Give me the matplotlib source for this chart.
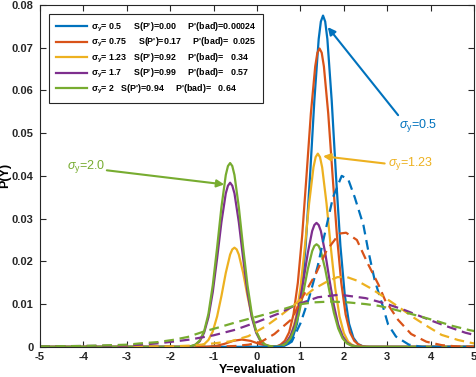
import numpy as np
import matplotlib
matplotlib.use('Agg')
import matplotlib.pyplot as plt

plt.rcParams['font.family'] = ['Liberation Sans', 'DejaVu Sans']
plt.rcParams['mathtext.fontset'] = 'custom'
plt.rcParams['mathtext.rm'] = 'Liberation Sans'
plt.rcParams['mathtext.it'] = 'Liberation Sans:italic'
plt.rcParams['mathtext.bf'] = 'Liberation Sans:bold'
plt.rcParams['axes.unicode_minus'] = False

# colours (MATLAB default order)
colors = ['#0072BD', '#D95319', '#EDB120', '#7E2F8E', '#77AC30']

# solid curves
x_s05 = [-5, 0.52, 0.62, 0.72, 0.82, 0.92, 1.02, 1.12, 1.22, 1.32, 1.42, 1.47, 1.52,
         1.57, 1.62, 1.72, 1.82, 1.92, 2.02, 2.12, 2.22, 2.32, 2.42, 2.52, 5]
y_s05 = [0, 0, 0.0002, 0.0007, 0.0021, 0.0054, 0.0122, 0.0237, 0.0398, 0.0576, 0.0720,
         0.0761, 0.0775, 0.0761, 0.0720, 0.0576, 0.0398, 0.0237, 0.0122, 0.0054, 0.0021,
         0.0007, 0.0002, 0, 0]

x_s075 = [-5, -1.2, -0.95, -0.75, -0.55, -0.35, -0.15, 0.05, 0.25, 0.45, 0.54, 0.64, 0.74,
          0.84, 0.94, 1.04, 1.14, 1.24, 1.34, 1.39, 1.44, 1.49, 1.54, 1.64, 1.74, 1.84,
          1.94, 2.04, 2.14, 2.24, 2.34, 2.44, 2.6, 5]
y_s075 = [0, 0, 0.0002, 0.0007, 0.0014, 0.0017, 0.0014, 0.0007, 0.0002, 0.0001, 0.0005,
          0.0014, 0.0034, 0.0076, 0.0150, 0.0261, 0.0401, 0.0546, 0.0656, 0.0688, 0.0698,
          0.0688, 0.0656, 0.0546, 0.0401, 0.0261, 0.0150, 0.0076, 0.0034, 0.0014, 0.0005,
          0.0001, 0, 0]

x_s123 = [-5, -1.52, -1.42, -1.32, -1.22, -1.12, -1.02, -0.92, -0.82, -0.72, -0.62, -0.57,
          -0.52, -0.47, -0.42, -0.32, -0.22, -0.12, -0.02, 0.08, 0.18, 0.28, 0.4, 0.5, 0.6,
          0.7, 0.8, 0.9, 1.0, 1.1, 1.2, 1.3, 1.35, 1.4, 1.45, 1.5, 1.6, 1.7, 1.8, 1.9, 2.0,
          2.1, 2.2, 2.3, 2.4, 5]
y_s123 = [0, 0, 0.0001, 0.0002, 0.0006, 0.0016, 0.0036, 0.0071, 0.0119, 0.0173, 0.0216,
          0.0228, 0.0232, 0.0228, 0.0216, 0.0173, 0.0119, 0.0071, 0.0036, 0.0016, 0.0006,
          0.0002, 0.0001, 0.0001, 0.0004, 0.0012, 0.0032, 0.0071, 0.0138, 0.0232, 0.0336,
          0.0420, 0.0444, 0.0452, 0.0444, 0.0420, 0.0336, 0.0232, 0.0138, 0.0071, 0.0032,
          0.0012, 0.0004, 0.0001, 0, 0]

x_s17 = [-5, -1.62, -1.52, -1.42, -1.32, -1.22, -1.12, -1.02, -0.92, -0.82, -0.72, -0.67,
         -0.62, -0.57, -0.52, -0.42, -0.32, -0.22, -0.12, -0.02, 0.08, 0.18, 0.28, 0.37,
         0.47, 0.57, 0.67, 0.77, 0.87, 0.97, 1.07, 1.17, 1.27, 1.32, 1.37, 1.42, 1.47, 1.57,
         1.67, 1.77, 1.87, 1.97, 2.07, 2.17, 2.27, 2.37, 5]
y_s17 = [0, 0, 0.0001, 0.0005, 0.0013, 0.0033, 0.0069, 0.0128, 0.0207, 0.0292, 0.0359,
         0.0377, 0.0384, 0.0377, 0.0359, 0.0292, 0.0207, 0.0128, 0.0069, 0.0033, 0.0013,
         0.0005, 0.0001, 0.0001, 0.0001, 0.0004, 0.0010, 0.0025, 0.0052, 0.0097, 0.0156,
         0.0220, 0.0271, 0.0285, 0.0290, 0.0285, 0.0271, 0.0220, 0.0156, 0.0097, 0.0052,
         0.0025, 0.0010, 0.0004, 0.0001, 0, 0]

x_s2 = x_s17
y_s2 = [0, 0, 0.0002, 0.0005, 0.0015, 0.0036, 0.0077, 0.0144, 0.0232, 0.0327, 0.0402,
        0.0423, 0.0430, 0.0423, 0.0402, 0.0327, 0.0232, 0.0144, 0.0077, 0.0036, 0.0015,
        0.0005, 0.0002, 0.0001, 0.0001, 0.0003, 0.0008, 0.0020, 0.0043, 0.0080, 0.0129,
        0.0182, 0.0224, 0.0236, 0.0240, 0.0236, 0.0224, 0.0182, 0.0129, 0.0080, 0.0043,
        0.0020, 0.0008, 0.0003, 0.0001, 0, 0]

# dashed curves
x_d05 = [-5, 0.6, 0.8, 1.0, 1.2, 1.4, 1.55, 1.75, 1.95, 2.1, 2.25, 2.45, 2.56, 2.71, 2.9,
         3.02, 3.2, 3.5, 3.8, 5]
y_d05 = [0, 0, 0.0012, 0.0055, 0.0115, 0.019, 0.026, 0.035, 0.040, 0.0392, 0.035, 0.0285,
         0.0226, 0.0156, 0.0094, 0.0052, 0.0024, 0.0005, 0, 0]

x_d075 = [-5, -1.0, -0.5, -0.2, 0.1, 0.4, 0.8, 1.05, 1.35, 1.6, 1.9, 2.05, 2.3, 2.55, 2.8,
          2.95, 3.25, 3.55, 3.9, 4.25, 4.6, 5]
y_d075 = [0, 0, 0.0002, 0.0005, 0.0012, 0.003, 0.0065, 0.0117, 0.017, 0.0225, 0.0265,
          0.0267, 0.025, 0.0195, 0.0145, 0.0109, 0.0063, 0.0030, 0.0012, 0.0004, 0.0001, 0]

x_d123 = [-5, -2.0, -1.5, -1.0, -0.6, -0.2, 0.2, 0.5, 0.75, 1.0, 1.3, 1.6, 1.85, 2.05, 2.3,
          2.6, 2.8, 3.05, 3.35, 3.63, 3.94, 4.25, 4.63, 4.9, 5]
y_d123 = [0, 0.0001, 0.0003, 0.0008, 0.0013, 0.0025, 0.0048, 0.0070, 0.0090, 0.0110,
          0.0135, 0.0152, 0.0163, 0.0164, 0.0155, 0.0138, 0.0125, 0.0108, 0.0087, 0.0067,
          0.0047, 0.0028, 0.0016, 0.0010, 0.0008]

x_d17 = [-5, -4, -3, -2.7, -2.3, -1.95, -1.55, -1.0, -0.5, 0.0, 0.5, 0.9, 1.4, 1.9, 2.5,
         3.0, 3.4, 3.75, 4.05, 4.4, 4.8, 5]
y_d17 = [0.0001, 0.0002, 0.0003, 0.0005, 0.0008, 0.0012, 0.0017, 0.0027, 0.0040, 0.0058,
         0.0078, 0.0098, 0.0116, 0.0122, 0.0114, 0.0100, 0.0086, 0.0072, 0.0060, 0.0047,
         0.0033, 0.0028]

x_d2 = [-5, -4, -3, -2.7, -2.3, -1.95, -1.6, -1.25, -0.9, -0.5, -0.1, 0.3, 0.6, 0.95, 1.3,
        1.7, 2.1, 2.5, 2.8, 3.1, 3.4, 3.8, 4.15, 4.5, 4.9, 5]
y_d2 = [0.0001, 0.0002, 0.0005, 0.0008, 0.0011, 0.0016, 0.0023, 0.0035, 0.0045, 0.0057,
        0.0068, 0.0079, 0.0088, 0.0099, 0.0104, 0.0106, 0.0104, 0.0100, 0.0096, 0.0089,
        0.0081, 0.0070, 0.0060, 0.0049, 0.0039, 0.0037]

labels = [r"$\mathbf{\sigma_y}$= 0.5     S(P')=0.00     P'(bad)=0.00024",
          r"$\mathbf{\sigma_y}$= 0.75     S(P')=0.17     P'(bad)=  0.025",
          r"$\mathbf{\sigma_y}$= 1.23   S(P')=0.92     P'(bad)=   0.34",
          r"$\mathbf{\sigma_y}$= 1.7     S(P')=0.99     P'(bad)=   0.57",
          r"$\mathbf{\sigma_y}$= 2   S(P')=0.94     P'(bad)=   0.64"]

solid = [(x_s05, y_s05), (x_s075, y_s075), (x_s123, y_s123), (x_s17, y_s17), (x_s2, y_s2)]
dashed = [(x_d05, y_d05), (x_d075, y_d075), (x_d123, y_d123), (x_d17, y_d17), (x_d2, y_d2)]

fig = plt.figure(figsize=(4.76, 3.77), dpi=100)
ax = fig.add_axes([0.084, 0.080, 0.912, 0.907])

for (xs, ys), c, lab in zip(solid, colors, labels):
    ax.plot(xs, ys, color=c, lw=1.6, label=lab)
for (xd, yd), c in zip(dashed, colors):
    ax.plot(xd, yd, color=c, lw=1.6, linestyle=(0, (4.4, 2.6)))

ax.set_xlim(-5, 5)
ax.set_ylim(0, 0.08)
ax.set_xticks(np.arange(-5, 6, 1))
ax.set_yticks(np.arange(0, 0.081, 0.01))
ax.set_yticklabels(['0', '0.01', '0.02', '0.03', '0.04', '0.05', '0.06', '0.07', '0.08'])
ax.tick_params(direction='in', top=True, right=True, length=4, width=0.8,
               labelsize=8, color='#262626', labelcolor='#262626')
ax.tick_params(axis='y', pad=4.5)
for lbl in ax.get_xticklabels() + ax.get_yticklabels():
    lbl.set_fontweight('bold')
for sp in ax.spines.values():
    sp.set_color('#262626')
    sp.set_linewidth(0.8)

ax.set_xlabel('Y=evaluation', fontsize=9, fontweight='bold', labelpad=2)
ax.set_ylabel('P(Y)', fontsize=9, fontweight='bold', va='center')
ax.yaxis.set_label_coords(-0.08, 0.5)

leg = ax.legend(loc='upper left', bbox_to_anchor=(0.021, 0.974), borderaxespad=0,
                prop={'size': 6.4, 'weight': 'bold'}, handlelength=3.5, handletextpad=0.45,
                labelspacing=0.28, fancybox=False, framealpha=1, borderpad=0.75)
leg.get_frame().set_edgecolor('#262626')
leg.get_frame().set_linewidth(0.8)

aprops = dict(arrowstyle='-|>', lw=1.5, mutation_scale=11, shrinkA=0, shrinkB=0)
ax.annotate('', xy=(1.63, 0.0748), xytext=(3.25, 0.0542),
            arrowprops=dict(color=colors[0], **aprops))
ax.text(3.28, 0.0518, r'$\sigma_{\mathrm{y}}$=0.5', color=colors[0], fontsize=9,
        va='center', ha='left')
ax.annotate('', xy=(1.52, 0.0446), xytext=(2.94, 0.0429),
            arrowprops=dict(color=colors[2], **aprops))
ax.text(3.02, 0.0429, r'$\sigma_{\mathrm{y}}$=1.23', color=colors[2], fontsize=9,
        va='center', ha='left')
ax.annotate('', xy=(-0.755, 0.0380), xytext=(-3.46, 0.0413),
            arrowprops=dict(color=colors[4], **aprops))
ax.text(-3.5, 0.0422, r'$\sigma_{\mathrm{y}}$=2.0', color=colors[4], fontsize=9,
        va='center', ha='right')

fig.savefig('out.png', dpi=100)
